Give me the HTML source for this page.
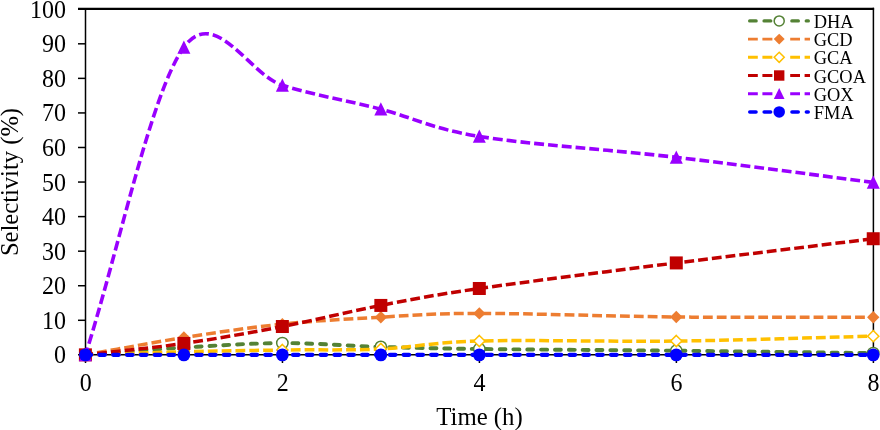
<!DOCTYPE html>
<html lang="en"><head><meta charset="utf-8"><title>Selectivity vs Time</title>
<style>html,body{margin:0;padding:0;background:#fff}body{width:880px;height:430px;overflow:hidden}</style></head>
<body>
<svg width="880" height="430" viewBox="0 0 880 430" style="display:block">
<rect width="880" height="430" fill="#fff"/>
<g stroke="#000" fill="none">
<path d="M78 8.9H874.1" stroke-width="2.2"/>
<path d="M85.5 8.9V355.4" stroke-width="1.5"/>
<path d="M873.4 7.8V363" stroke-width="1.5"/>
<path d="M78 354.85H874" stroke-width="1.5"/>
<path d="M78 320.29H85.5" stroke-width="1.5"/>
<path d="M78 285.73H85.5" stroke-width="1.5"/>
<path d="M78 251.17H85.5" stroke-width="1.5"/>
<path d="M78 216.61H85.5" stroke-width="1.5"/>
<path d="M78 182.05H85.5" stroke-width="1.5"/>
<path d="M78 147.49H85.5" stroke-width="1.5"/>
<path d="M78 112.93H85.5" stroke-width="1.5"/>
<path d="M78 78.37H85.5" stroke-width="1.5"/>
<path d="M78 43.81H85.5" stroke-width="1.5"/>
<path d="M85.50 354.85V363" stroke-width="1.5"/>
<path d="M282.46 354.85V363" stroke-width="1.5"/>
<path d="M479.42 354.85V363" stroke-width="1.5"/>
<path d="M676.38 354.85V363" stroke-width="1.5"/>
</g>
<g font-family="'Liberation Serif', 'Times New Roman', serif" font-size="24" fill="#000">
<text transform="translate(66,363.4) scale(1,1.04)" text-anchor="end">0</text>
<text transform="translate(66,328.8) scale(1,1.04)" text-anchor="end">10</text>
<text transform="translate(66,294.2) scale(1,1.04)" text-anchor="end">20</text>
<text transform="translate(66,259.7) scale(1,1.04)" text-anchor="end">30</text>
<text transform="translate(66,225.1) scale(1,1.04)" text-anchor="end">40</text>
<text transform="translate(66,190.6) scale(1,1.04)" text-anchor="end">50</text>
<text transform="translate(66,156.0) scale(1,1.04)" text-anchor="end">60</text>
<text transform="translate(66,121.4) scale(1,1.04)" text-anchor="end">70</text>
<text transform="translate(66,86.9) scale(1,1.04)" text-anchor="end">80</text>
<text transform="translate(66,52.3) scale(1,1.04)" text-anchor="end">90</text>
<text transform="translate(66,17.5) scale(1,1.04)" text-anchor="end">100</text>
<text transform="translate(85.7,390.5) scale(1,1.04)" text-anchor="middle">0</text>
<text transform="translate(282.7,390.5) scale(1,1.04)" text-anchor="middle">2</text>
<text transform="translate(479.6,390.5) scale(1,1.04)" text-anchor="middle">4</text>
<text transform="translate(676.6,390.5) scale(1,1.04)" text-anchor="middle">6</text>
<text transform="translate(873.5,390.5) scale(1,1.04)" text-anchor="middle">8</text>
<text transform="translate(479.5,425) scale(1,1.02)" text-anchor="middle" font-size="24.8">Time (h)</text>
<text transform="translate(17.8,182) rotate(-90) scale(1,1.02)" text-anchor="middle" font-size="24.6">Selectivity (%)</text>
</g>
<path d="M85.40 354.85 C118.23 352.43 151.05 349.55 183.88 347.59 C216.71 345.63 249.53 343.21 282.36 343.10 C315.19 342.98 348.01 345.92 380.84 346.90 C413.67 347.88 430.08 348.34 479.32 348.97 C528.56 349.61 610.63 350.01 676.28 350.70 C741.93 351.39 807.59 352.32 873.24 353.12" fill="none" stroke="#548235" stroke-width="3.90" stroke-dasharray="5.90 7.93" stroke-dashoffset="0.05" stroke-linecap="round"/>
<circle cx="85.40" cy="354.85" r="5.70" fill="#fff" stroke="#548235" stroke-width="1.5"/>
<circle cx="183.88" cy="347.59" r="5.70" fill="#fff" stroke="#548235" stroke-width="1.5"/>
<circle cx="282.36" cy="343.10" r="5.70" fill="#fff" stroke="#548235" stroke-width="1.5"/>
<circle cx="380.84" cy="346.90" r="5.70" fill="#fff" stroke="#548235" stroke-width="1.5"/>
<circle cx="479.32" cy="348.97" r="5.70" fill="#fff" stroke="#548235" stroke-width="1.5"/>
<circle cx="676.28" cy="350.70" r="5.70" fill="#fff" stroke="#548235" stroke-width="1.5"/>
<circle cx="873.24" cy="353.12" r="5.70" fill="#fff" stroke="#548235" stroke-width="1.5"/>
<path d="M85.40 354.85 C118.23 349.09 151.05 342.70 183.88 337.57 C216.71 332.44 249.53 327.49 282.36 324.09 C315.19 320.69 348.01 318.97 380.84 317.18 C413.67 315.39 430.08 313.41 479.32 313.38 C528.56 313.35 610.63 316.37 676.28 317.01 C741.93 317.64 807.59 317.12 873.24 317.18" fill="none" stroke="#ED7D31" stroke-width="3.50" stroke-dasharray="9.80 4.03" stroke-dashoffset="2.00" stroke-linecap="butt"/>
<path d="M85.40 348.65 L91.60 354.85 L85.40 361.05 L79.20 354.85Z" fill="#ED7D31"/>
<path d="M183.88 331.37 L190.08 337.57 L183.88 343.77 L177.68 337.57Z" fill="#ED7D31"/>
<path d="M282.36 317.89 L288.56 324.09 L282.36 330.29 L276.16 324.09Z" fill="#ED7D31"/>
<path d="M380.84 310.98 L387.04 317.18 L380.84 323.38 L374.64 317.18Z" fill="#ED7D31"/>
<path d="M479.32 307.18 L485.52 313.38 L479.32 319.58 L473.12 313.38Z" fill="#ED7D31"/>
<path d="M676.28 310.81 L682.48 317.01 L676.28 323.21 L670.08 317.01Z" fill="#ED7D31"/>
<path d="M873.24 310.98 L879.44 317.18 L873.24 323.38 L867.04 317.18Z" fill="#ED7D31"/>
<path d="M85.40 354.85 C118.23 353.81 151.05 352.55 183.88 351.74 C216.71 350.93 249.53 350.47 282.36 350.01 C315.19 349.55 348.01 350.47 380.84 348.97 C413.67 347.48 430.08 342.35 479.32 341.03 C528.56 339.70 610.63 341.83 676.28 341.03 C741.93 340.22 807.59 337.80 873.24 336.19" fill="none" stroke="#FFC000" stroke-width="3.50" stroke-dasharray="9.80 4.03" stroke-dashoffset="2.00" stroke-linecap="butt"/>
<path d="M85.40 349.25 L91.00 354.85 L85.40 360.45 L79.80 354.85Z" fill="#fff" stroke="#FFC000" stroke-width="1.5"/>
<path d="M183.88 346.14 L189.48 351.74 L183.88 357.34 L178.28 351.74Z" fill="#fff" stroke="#FFC000" stroke-width="1.5"/>
<path d="M282.36 344.41 L287.96 350.01 L282.36 355.61 L276.76 350.01Z" fill="#fff" stroke="#FFC000" stroke-width="1.5"/>
<path d="M380.84 343.37 L386.44 348.97 L380.84 354.57 L375.24 348.97Z" fill="#fff" stroke="#FFC000" stroke-width="1.5"/>
<path d="M479.32 335.43 L484.92 341.03 L479.32 346.63 L473.72 341.03Z" fill="#fff" stroke="#FFC000" stroke-width="1.5"/>
<path d="M676.28 335.43 L681.88 341.03 L676.28 346.63 L670.68 341.03Z" fill="#fff" stroke="#FFC000" stroke-width="1.5"/>
<path d="M873.24 330.59 L878.84 336.19 L873.24 341.79 L867.64 336.19Z" fill="#fff" stroke="#FFC000" stroke-width="1.5"/>
<path d="M85.40 354.85 C118.23 351.05 151.05 348.17 183.88 343.45 C216.71 338.72 249.53 332.85 282.36 326.51 C315.19 320.17 348.01 311.77 380.84 305.43 C413.67 299.09 430.08 295.58 479.32 288.49 C528.56 281.41 610.63 271.21 676.28 262.92 C741.93 254.63 807.59 246.79 873.24 238.73" fill="none" stroke="#C00000" stroke-width="3.50" stroke-dasharray="9.80 4.03" stroke-dashoffset="2.00" stroke-linecap="butt"/>
<rect x="78.90" y="348.35" width="13.00" height="13.00" fill="#C00000"/>
<rect x="177.38" y="336.95" width="13.00" height="13.00" fill="#C00000"/>
<rect x="275.86" y="320.01" width="13.00" height="13.00" fill="#C00000"/>
<rect x="374.34" y="298.93" width="13.00" height="13.00" fill="#C00000"/>
<rect x="472.82" y="281.99" width="13.00" height="13.00" fill="#C00000"/>
<rect x="669.78" y="256.42" width="13.00" height="13.00" fill="#C00000"/>
<rect x="866.74" y="232.23" width="13.00" height="13.00" fill="#C00000"/>
<path d="M85.40 354.85 C118.23 252.32 151.05 92.19 183.88 47.27 C215.02 4.65 249.53 74.97 282.36 85.28 C315.19 95.59 348.01 100.60 380.84 109.13 C413.67 117.65 430.08 128.40 479.32 136.43 C528.56 144.47 610.63 149.68 676.28 157.34 C741.93 165.00 807.59 174.04 873.24 182.40" fill="none" stroke="#9900FF" stroke-width="3.60" stroke-dasharray="9.80 4.03" stroke-dashoffset="2.00" stroke-linecap="butt"/>
<path d="M85.40 348.03 L91.90 361.22 L78.90 361.22Z" fill="#9900FF"/>
<path d="M183.88 40.44 L190.38 53.64 L177.38 53.64Z" fill="#9900FF"/>
<path d="M282.36 78.46 L288.86 91.65 L275.86 91.65Z" fill="#9900FF"/>
<path d="M380.84 102.30 L387.34 115.50 L374.34 115.50Z" fill="#9900FF"/>
<path d="M479.32 129.61 L485.82 142.80 L472.82 142.80Z" fill="#9900FF"/>
<path d="M676.28 150.51 L682.78 163.71 L669.78 163.71Z" fill="#9900FF"/>
<path d="M873.24 175.57 L879.74 188.77 L866.74 188.77Z" fill="#9900FF"/>
<path d="M85.40 354.85 C118.23 354.85 151.05 354.85 183.88 354.85 C216.71 354.85 249.53 354.85 282.36 354.85 C315.19 354.85 348.01 354.85 380.84 354.85 C413.67 354.85 430.08 354.85 479.32 354.85 C528.56 354.85 610.63 354.85 676.28 354.85 C741.93 354.85 807.59 354.85 873.24 354.85" fill="none" stroke="#0000FF" stroke-width="4.10" stroke-dasharray="5.70 8.13" stroke-dashoffset="-0.05" stroke-linecap="round"/>
<circle cx="85.40" cy="354.85" r="6.40" fill="#0000FF"/>
<circle cx="183.88" cy="354.85" r="6.40" fill="#0000FF"/>
<circle cx="282.36" cy="354.85" r="6.40" fill="#0000FF"/>
<circle cx="380.84" cy="354.85" r="6.40" fill="#0000FF"/>
<circle cx="479.32" cy="354.85" r="6.40" fill="#0000FF"/>
<circle cx="676.28" cy="354.85" r="6.40" fill="#0000FF"/>
<circle cx="873.24" cy="354.85" r="6.40" fill="#0000FF"/>
<g font-family="'Liberation Serif', 'Times New Roman', serif" font-size="18.4" fill="#000">
<path d="M749.65 20.90H812" fill="none" stroke="#548235" stroke-width="3.30" stroke-dasharray="6.50 7.90 6.70 21.10 6.50 7.90 2.10 50" stroke-linecap="round"/>
<circle cx="779.20" cy="20.90" r="5.02" fill="#fff" stroke="#548235" stroke-width="1.5"/>
<text x="813.8" y="27.90">DHA</text>
<path d="M748.00 39.10H812" fill="none" stroke="#ED7D31" stroke-width="2.90" stroke-dasharray="9.80 4.60 10.00 17.80 9.80 4.60 5.40 50"/>
<path d="M779.20 33.64 L784.66 39.10 L779.20 44.56 L773.74 39.10Z" fill="#ED7D31"/>
<text x="813.8" y="46.10">GCD</text>
<path d="M748.00 57.30H812" fill="none" stroke="#FFC000" stroke-width="2.90" stroke-dasharray="9.80 4.60 10.00 17.80 9.80 4.60 5.40 50"/>
<path d="M779.20 52.26 L784.24 57.30 L779.20 62.34 L774.16 57.30Z" fill="#fff" stroke="#FFC000" stroke-width="1.5"/>
<text x="813.8" y="64.30">GCA</text>
<path d="M748.00 75.50H812" fill="none" stroke="#C00000" stroke-width="2.90" stroke-dasharray="9.80 4.60 10.00 17.80 9.80 4.60 5.40 50"/>
<rect x="774.00" y="70.30" width="10.40" height="10.40" fill="#C00000"/>
<text x="813.8" y="82.50">GCOA</text>
<path d="M748.00 93.70H812" fill="none" stroke="#9900FF" stroke-width="3.00" stroke-dasharray="9.80 4.60 10.00 17.80 9.80 4.60 5.40 50"/>
<path d="M779.20 88.10 L784.53 98.92 L773.87 98.92Z" fill="#9900FF"/>
<text x="813.8" y="100.70">GOX</text>
<path d="M749.75 111.90H812" fill="none" stroke="#0000FF" stroke-width="3.50" stroke-dasharray="6.30 8.10 6.50 21.30 6.30 8.10 1.90 50" stroke-linecap="round"/>
<circle cx="779.20" cy="111.90" r="5.76" fill="#0000FF"/>
<text x="813.8" y="118.90">FMA</text>
</g>
</svg>
</body></html>
